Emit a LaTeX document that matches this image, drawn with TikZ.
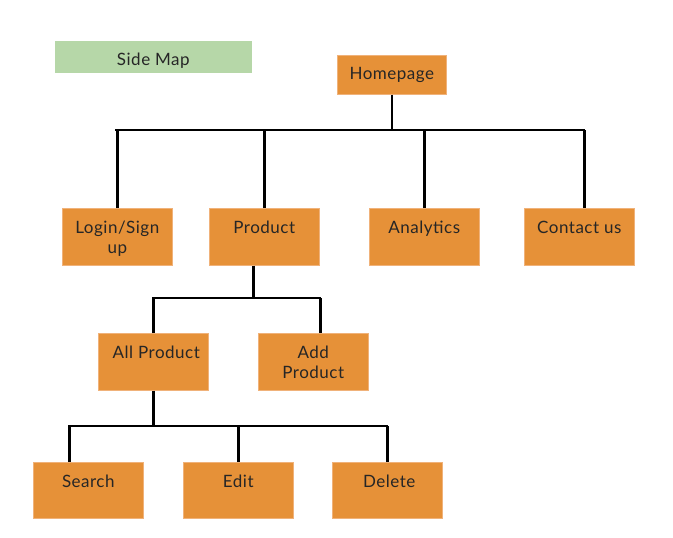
\documentclass[tikz,border=0pt]{standalone}
\usepackage{fontspec}
\setmainfont{Lato}[LetterSpace=3]
\definecolor{boxorange}{HTML}{E69138}
\definecolor{boxedge}{HTML}{F0B27A}
\definecolor{mapgreen}{HTML}{B6D7A8}
\begin{document}
\begin{tikzpicture}[x=1pt,y=-1pt,
  box/.style={fill=boxorange, draw=boxedge, line width=0.6pt, minimum width=110pt, minimum height=57pt, inner sep=0pt, anchor=north west},
  lbl/.style={font=\fontsize{17}{20}\selectfont, align=center, anchor=base, inner sep=0pt, text=black!85},
  bar/.style={line width=2.6pt, line cap=rect},
  drop/.style={line width=2.6pt}]
\useasboundingbox (0,0) rectangle (673,538);
\fill[white] (0,0) rectangle (673,538);
% side map
\node[box, fill=mapgreen, draw=mapgreen, minimum width=196pt, minimum height=31pt] (sidemap) at (55,41) {};
\node[lbl] (t-sidemap) at ([yshift=-8.5pt]sidemap.center) {Side Map};
% boxes
\node[box, minimum width=109pt, minimum height=39pt] (home) at (337,55) {};
\node[box] (login) at (62,208) {};
\node[box] (product) at (209,208) {};
\node[box] (analytics) at (369,208) {};
\node[box] (contact) at (524,208) {};
\node[box] (allp) at (98,333) {};
\node[box] (addp) at (258,333) {};
\node[box, minimum height=56pt] (search) at (33,462) {};
\node[box, minimum height=56pt] (edit) at (183,462) {};
\node[box, minimum height=56pt] (delete) at (332,462) {};
% labels (base = last line)
\node[lbl] (t-home) at ([yshift=-24pt]home.north) {Homepage};
\node[lbl] (t-login) at ([yshift=-45pt]login.north) {Login/Sign\\up};
\node[lbl] (t-product) at ([yshift=-25pt]product.north) {Product};
\node[lbl] (t-analytics) at ([yshift=-25pt]analytics.north) {Analytics};
\node[lbl] (t-contact) at ([yshift=-25pt]contact.north) {Contact us};
\node[lbl] (t-allp) at ([xshift=3pt,yshift=-25pt]allp.north) {All Product};
\node[lbl] (t-addp) at ([yshift=-45pt]addp.north) {Add\\Product};
\node[lbl] (t-search) at ([yshift=-25pt]search.north) {Search};
\node[lbl] (t-edit) at ([yshift=-25pt]edit.north) {Edit};
\node[lbl] (t-delete) at ([xshift=2pt,yshift=-25pt]delete.north) {Delete};
% level 1 connectors
\coordinate (b1l) at (116,130);
\coordinate (b1r) at (584,130);
\draw[bar] (b1l) -- (b1r);
\draw[drop] (home.south) -- (home.south |- b1l);
\draw[drop] (login.north) -- (login.north |- b1l);
\draw[drop] (product.north) -- (product.north |- b1l);
\draw[drop] (analytics.north) -- (analytics.north |- b1l);
\draw[drop] ([xshift=5pt]contact.north) -- ([xshift=5pt]contact.north |- b1l);
% level 2 connectors
\coordinate (b2l) at (153,298);
\coordinate (b2r) at (320,298);
\draw[bar] (b2l) -- (b2r);
\draw[drop] ([xshift=-11pt]product.south) -- ([xshift=-11pt]product.south |- b2l);
\draw[drop] (allp.north) -- (allp.north |- b2l);
\draw[drop] ([xshift=7pt]addp.north) -- ([xshift=7pt]addp.north |- b2l);
% level 3 connectors
\coordinate (b3l) at (69,426);
\coordinate (b3r) at (387,426);
\draw[bar] (b3l) -- (b3r);
\draw[drop] (allp.south) -- (allp.south |- b3l);
\draw[drop] ([xshift=-19pt]search.north) -- ([xshift=-19pt]search.north |- b3l);
\draw[drop] (edit.north) -- (edit.north |- b3l);
\draw[drop] (delete.north) -- (delete.north |- b3l);
\end{tikzpicture}
\end{document}
